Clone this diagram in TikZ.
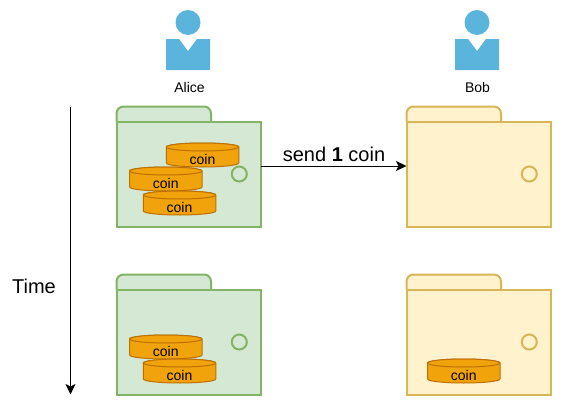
\documentclass[tikz,border=0pt]{standalone}
\usepackage{fontspec}
\setmainfont{Liberation Sans}
\usetikzlibrary{arrows.meta}
\definecolor{greenfill}{HTML}{D5E8D4}
\definecolor{greenline}{HTML}{82B366}
\definecolor{yellowfill}{HTML}{FFF2CC}
\definecolor{yellowline}{HTML}{D6B656}
\definecolor{coinfill}{HTML}{F0A30A}
\definecolor{coinline}{HTML}{BD7000}
\definecolor{personblue}{HTML}{5AB4DC}
\tikzset{
  wbody/.style={draw=#1,line width=2pt,minimum width=144pt,minimum height=105pt,inner sep=0pt,outer sep=0pt,anchor=north west},
  wtab/.style={line width=2pt,rounded corners=7pt},
  wdot/.style={circle,draw=#1,line width=2pt,minimum size=15pt,inner sep=0pt},
  cointop/.style={draw=coinline,fill=coinfill,line width=1pt},
  cointext/.style={font=\fontsize{14}{16}\selectfont,text=black,inner sep=0pt},
  label/.style={font=\fontsize{14}{16}\selectfont,text=black,inner sep=0pt},
  bigtext/.style={font=\fontsize{20}{24}\selectfont,text=black,inner sep=0pt},
  conn/.style={draw=black,line width=1pt,-{Stealth[length=10.5pt,width=10pt,inset=2.5pt]}},
  personfill/.style={fill=personblue,draw=none}
}
% name, x, y, fill, line
\newcommand{\walletbox}[5]{%
  \path[wtab,fill=#4,draw=#5] (#2,#3) -- (#2,#3-15) -- (#2+94.5,#3-15) -- (#2+94.5,#3);
  \node[wbody=#5,fill=#4] (#1) at (#2,#3) {};
  \node[wdot=#5,fill=none] (#1dot) at (#2+122.8,#3+52.5) {};
}
% name, x, y(top)
\newcommand{\coinstack}[3]{%
  \path[cointop] (#2,#3+4) -- (#2,#3+20) arc[x radius=36.25,y radius=4,start angle=180,end angle=0] -- (#2+72.5,#3+4) arc[x radius=36.25,y radius=4,start angle=0,end angle=-180] -- cycle;
  \path[cointop] (#2+36.25,#3+4) ellipse[x radius=36.25,y radius=4];
  \node[cointext] (#1) at (#2+36.25,#3+16) {coin};
}
% name, centre x, label centre x, label
\newcommand{\person}[4]{%
  \node[personfill,circle,minimum size=25pt,inner sep=0pt] (#1head) at (#2,22.5) {};
  \path[personfill] (#2-22,39) -- (#2-9,39) -- (#2,51) -- (#2+9,39) -- (#2+22,39) -- (#2+22,70) -- (#2-22,70) -- cycle;
  \node[label] (#1) at (#3,87) {#4};
}
\begin{document}
\begin{tikzpicture}[x=1pt,y=-1pt]
\useasboundingbox (0,0) rectangle (563,415);
\person{alice}{188}{189.5}{Alice}
\person{bob}{477}{477.5}{Bob}
\walletbox{aone}{116.5}{121.5}{greenfill}{greenline}
\walletbox{bone}{406.5}{121.5}{yellowfill}{yellowline}
\walletbox{atwo}{116.5}{289.5}{greenfill}{greenline}
\walletbox{btwo}{406.5}{289.5}{yellowfill}{yellowline}
\coinstack{ca}{166.25}{143}
\coinstack{cb}{129.5}{167}
\coinstack{cc}{143.25}{191}
\coinstack{cd}{129.5}{335}
\coinstack{ce}{143.25}{359}
\coinstack{cf}{427.5}{359}
\coordinate (tstart) at (70.5,107);
\coordinate (tend) at (70.5,394.5);
\draw[conn] (tstart) -- (tend);
\node[bigtext] (time) at (34,286) {Time};
\draw[conn] ([yshift=8pt]aone.east) -- ([yshift=8pt]bone.west);
\node[bigtext] (send) at (334,154) {send \textbf{1} coin};
\end{tikzpicture}
\end{document}
